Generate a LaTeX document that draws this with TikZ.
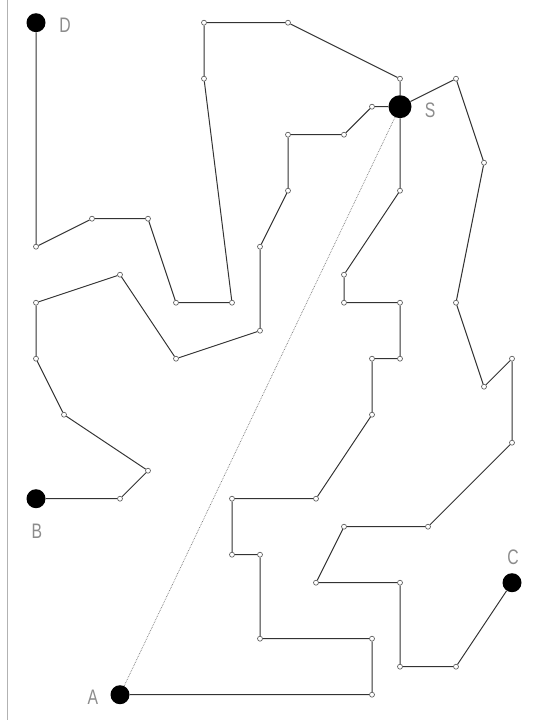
\documentclass[tikz,border=0pt]{standalone}
\usepackage{fontspec}
\setmainfont{Liberation Sans}
\newcommand{\narrowlbl}[1]{\scalebox{0.75}[1]{#1}}
\begin{document}
\begin{tikzpicture}[x=1pt,y=-1pt,
  v/.style={circle,draw=black!70,fill=white,line width=0.6pt,inner sep=0pt,minimum size=5pt},
  term/.style={circle,fill=black,inner sep=0pt,minimum size=19pt},
  hub/.style={circle,fill=black,inner sep=0pt,minimum size=23pt},
  edge/.style={draw=black!80,line width=1pt},
  beeline/.style={draw=black!55,line width=0.7pt,densely dotted},
  lbl/.style={text=black!45,font=\fontsize{21}{21}\selectfont,inner sep=0pt}]
\useasboundingbox (0,0) rectangle (540,720);
\draw[black!30,line width=1pt] (7,0) -- (7,720);
% terminals
\node[term] (D) at (36,22.7) {};
\node[term] (B) at (36,498.7) {};
\node[term] (A) at (120,694.7) {};
\node[term] (C) at (512,582.7) {};
\node[hub] (S) at (400,106.7) {};
% labels
\node[lbl] (lD) at (65,25) {\narrowlbl{D}};
\node[lbl] (lS) at (430,110) {\narrowlbl{S}};
\node[lbl] (lB) at (37,531) {\narrowlbl{B}};
\node[lbl] (lC) at (513,557) {\narrowlbl{C}};
\node[lbl] (lA) at (93,697) {\narrowlbl{A}};
% path D
\node[v] (a1) at (36,246.7) {};
\node[v] (a2) at (92,218.7) {};
\node[v] (a3) at (148,218.7) {};
\node[v] (a4) at (176,302.7) {};
\node[v] (a5) at (232,302.7) {};
\node[v] (a6) at (204,78.7) {};
\node[v] (a7) at (204,22.7) {};
\node[v] (a8) at (288,22.7) {};
\node[v] (a9) at (400,78.7) {};
% path B
\node[v] (b1) at (120,498.7) {};
\node[v] (b2) at (148,470.7) {};
\node[v] (b3) at (64,414.7) {};
\node[v] (b4) at (36,358.7) {};
\node[v] (b5) at (36,302.7) {};
\node[v] (b6) at (120,274.7) {};
\node[v] (b7) at (176,358.7) {};
\node[v] (b8) at (260,330.7) {};
\node[v] (b9) at (260,246.7) {};
\node[v] (b10) at (288,190.7) {};
\node[v] (b11) at (288,134.7) {};
\node[v] (b12) at (344,134.7) {};
\node[v] (b13) at (372,106.7) {};
% path A
\node[v] (c1) at (372,694.7) {};
\node[v] (c2) at (372,638.7) {};
\node[v] (c3) at (260,638.7) {};
\node[v] (c4) at (260,554.7) {};
\node[v] (c5) at (232,554.7) {};
\node[v] (c6) at (232,498.7) {};
\node[v] (c7) at (316,498.7) {};
\node[v] (c8) at (372,414.7) {};
\node[v] (c9) at (372,358.7) {};
\node[v] (c10) at (400,358.7) {};
\node[v] (c11) at (400,302.7) {};
\node[v] (c12) at (344,302.7) {};
\node[v] (c13) at (344,274.7) {};
\node[v] (c14) at (400,190.7) {};
% path C
\node[v] (d1) at (456,666.7) {};
\node[v] (d2) at (400,666.7) {};
\node[v] (d3) at (400,582.7) {};
\node[v] (d4) at (316,582.7) {};
\node[v] (d5) at (344,526.7) {};
\node[v] (d6) at (428,526.7) {};
\node[v] (d7) at (512,442.7) {};
\node[v] (d8) at (512,358.7) {};
\node[v] (d9) at (484,386.7) {};
\node[v] (d10) at (456,302.7) {};
\node[v] (d11) at (484,162.7) {};
\node[v] (d12) at (456,78.7) {};
% connectors
\draw[beeline] (A) -- (S);
\draw[edge] (D) -- (a1) -- (a2) -- (a3) -- (a4) -- (a5) -- (a6) -- (a7) -- (a8) -- (a9) -- (S);
\draw[edge] (B) -- (b1) -- (b2) -- (b3) -- (b4) -- (b5) -- (b6) -- (b7) -- (b8) -- (b9) -- (b10) -- (b11) -- (b12) -- (b13) -- (S);
\draw[edge] (A) -- (c1) -- (c2) -- (c3) -- (c4) -- (c5) -- (c6) -- (c7) -- (c8) -- (c9) -- (c10) -- (c11) -- (c12) -- (c13) -- (c14) -- (S);
\draw[edge] (C) -- (d1) -- (d2) -- (d3) -- (d4) -- (d5) -- (d6) -- (d7) -- (d8) -- (d9) -- (d10) -- (d11) -- (d12) -- (S);
\end{tikzpicture}
\end{document}
